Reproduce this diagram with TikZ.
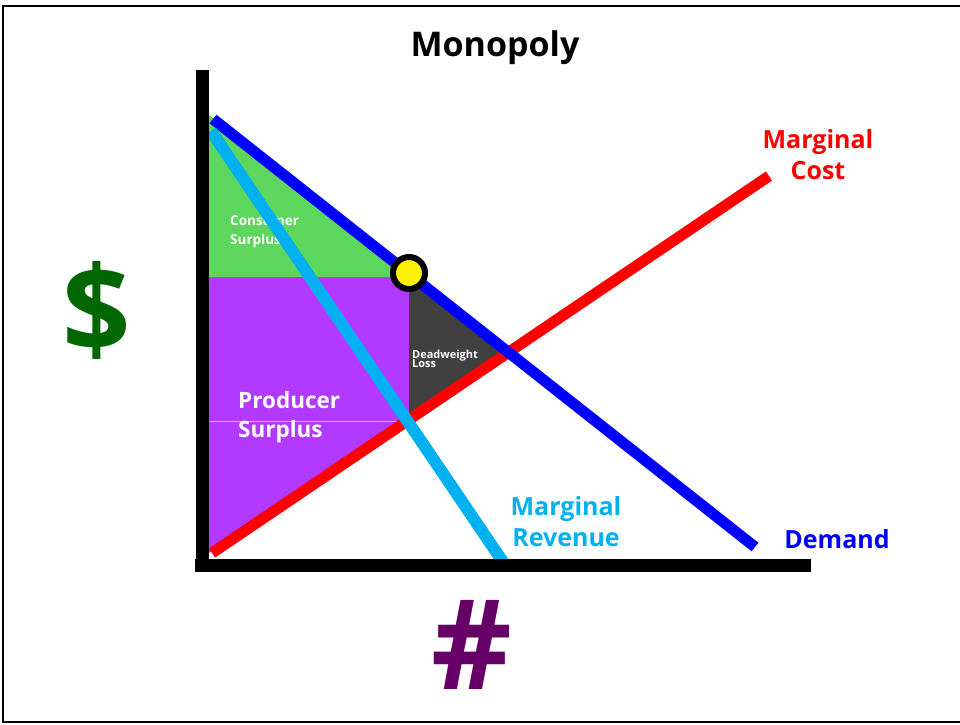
\documentclass[tikz,border=0pt]{standalone}
\usepackage{fontspec}
\setmainfont{Open Sans}
\usepackage{tikz}

\definecolor{csgreen}{HTML}{5CD65C}
\definecolor{pspurple}{HTML}{B239FF}
\definecolor{dwlgrey}{HTML}{404040}
\definecolor{mrblue}{HTML}{00B0F0}
\definecolor{dollargreen}{HTML}{006600}
\definecolor{qtypurple}{HTML}{660066}

\begin{document}
\begin{tikzpicture}[x=1pt,y=-1pt,
        curve/.style={line width=11pt},
        axis/.style={line width=13pt},
        lbl/.style={inner sep=0pt,align=center,font=\bfseries\fontsize{25}{31}\selectfont},
        area/.style={inner sep=0pt,text=white,align=left,anchor=west}]
        \useasboundingbox (0,0) rectangle (960,724);
        \draw[line width=2.5pt](3,6) rectangle (980,722);
        % end points of the curves
        \coordinate (D1) at (213,119); \coordinate (D2) at (755,547);
        \coordinate (MR1) at (211,131); \coordinate (MR2) at (503,562);
        \coordinate (MC1) at (212,553); \coordinate (MC2) at (769,176);
        % surplus areas
        \fill[csgreen](209,115)--(209,277)--(413,277)--cycle;
        \fill[pspurple](209,277)--(409,277)--(409,418)--(209,553)--cycle;
        \fill[dwlgrey](409,277)--(507,351)--(409,418)--cycle;
        \draw[pspurple!45!white, line width=0.8pt](209,421)--(400,421);
        \node[area, font=\bfseries\fontsize{13.5}{19}\selectfont] (cs) at (230,232) {Consumer\\Surplus};
        \node[area, font=\bfseries\fontsize{22.5}{29}\selectfont] (ps) at (238,417) {Producer\\Surplus};
        \node[area, font=\bfseries\fontsize{11}{11}\selectfont] (dwl) at (412,359) {Deadweight\\[-1.5pt]Loss};
        % curves
        \draw[curve, red](MC1)--(MC2);
        \draw[curve, blue](D1)--(D2);
        \draw[curve, mrblue, line width=12pt](MR1)--(MR2);
        % axes
        \draw[axis](202,70)--(202,572);
        \draw[axis](195,565)--(811,565);
        \node[circle, draw=black, line width=6pt, fill=yellow, minimum size=32pt, inner sep=0pt] (eq) at (409,273) {};
        % labels
        \node[font=\bfseries\fontsize{34}{40}\selectfont] (title) at (495,48) {Monopoly};
        \node[lbl, red] (mc) at (818,155) {Marginal\\Cost};
        \node[lbl, mrblue] (mr) at (566,522) {Marginal\\Revenue};
        \node[lbl, blue] (dem) at (837,539) {Demand};
        \node[dollargreen, font=\bfseries\fontsize{120}{120}\selectfont] (price) at (97,310) {\$};
        \node[qtypurple, font=\bfseries\fontsize{125}{125}\selectfont] (qty) at (472,645) {\#};
    \end{tikzpicture}
\end{document}
